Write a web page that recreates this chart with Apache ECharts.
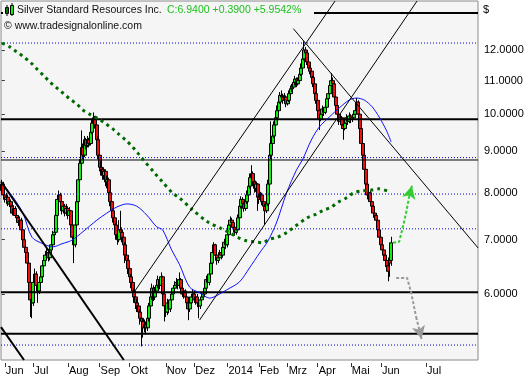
<!DOCTYPE html>
<html><head><meta charset="utf-8">
<script src="https://cdn.jsdelivr.net/npm/echarts@6/dist/echarts.min.js"></script>
<style>html,body{margin:0;padding:0;background:#fff;}#c{width:529px;height:380px;}</style>
</head><body><div id="c"></div>
<script>
// [open, close, low, high] per trading day, starting end of May 2013
const candles = [
[8.05,8.20,7.98,8.30],[8.20,7.95,7.90,8.25],[7.95,7.85,7.78,8.02],[7.85,7.90,7.80,8.00],[7.90,7.75,7.70,7.95],
[7.75,7.80,7.68,7.88],[7.80,7.70,7.62,7.85],[7.70,7.55,7.50,7.75],[7.55,7.65,7.50,7.72],[7.65,7.50,7.45,7.70],
[7.50,7.45,7.38,7.58],[7.45,7.35,7.28,7.50],[7.35,7.40,7.30,7.48],[7.40,7.20,7.15,7.45],[7.20,7.00,6.95,7.25],
[7.00,6.85,6.80,7.05],[6.85,6.75,6.65,6.95],[6.75,6.55,6.50,6.80],[6.55,6.20,6.10,6.60],[6.20,5.90,5.62,6.25],
[5.90,5.85,5.60,6.05],[5.85,6.20,5.80,6.25],[6.20,6.35,6.15,6.45],[6.35,6.15,6.10,6.40],[6.15,6.05,5.85,6.20],
[6.05,6.20,6.00,6.28],[6.20,6.30,6.15,6.38],[6.30,6.50,6.25,6.55],[6.50,6.60,6.45,6.70],[6.60,6.70,6.55,6.78],
[6.70,6.75,6.62,6.85],[6.75,6.65,6.58,6.82],[6.65,6.80,6.60,6.88],[6.80,6.90,6.75,7.00],[6.90,7.10,6.85,7.18],
[7.10,7.15,7.00,7.25],[7.15,7.50,7.10,7.58],[7.50,7.85,7.45,7.95],[7.85,7.95,7.75,8.05],[7.95,7.80,7.72,8.00],
[7.80,7.60,7.52,7.85],[7.60,7.70,7.55,7.80],[7.70,7.55,7.48,7.75],[7.55,7.65,7.50,7.75],[7.65,7.50,7.42,7.70],
[7.50,7.60,7.45,7.68],[7.60,7.30,7.25,7.62],[7.30,7.05,6.95,7.35],[7.05,6.90,6.55,7.10],[6.90,7.30,6.85,7.35],
[7.30,7.80,7.25,7.85],[7.80,8.30,7.75,8.40],[8.30,8.70,8.25,8.80],[8.70,9.10,8.65,9.55],[9.10,8.90,8.80,9.20],
[8.90,9.30,8.85,9.40],[9.30,9.15,9.05,9.35],[9.15,9.30,9.10,9.40],[9.30,9.20,9.10,9.35],[9.20,9.50,9.15,9.60],
[9.50,9.75,9.45,9.85],[9.75,9.90,9.65,10.05],[9.90,9.70,9.60,9.95],[9.70,9.30,9.20,9.75],[9.30,8.90,8.80,9.40],
[8.90,8.60,8.50,8.95],[8.60,8.55,8.40,8.75],[8.55,8.40,8.30,8.60],[8.40,8.50,8.30,8.60],[8.50,8.25,8.15,8.55],
[8.25,8.30,8.10,8.40],[8.30,8.00,7.90,8.35],[8.00,7.80,7.70,8.05],[7.80,7.60,7.50,7.85],[7.60,7.45,7.35,7.65],
[7.45,7.30,7.20,7.50],[7.30,7.10,7.00,7.35],[7.10,7.00,6.90,7.20],[7.00,7.20,6.95,7.40],[7.20,7.15,7.05,7.60],
[7.15,7.05,6.95,7.25],[7.05,6.90,6.80,7.10],[6.90,6.70,6.55,6.95],[6.70,6.60,6.50,6.75],[6.60,6.45,6.35,6.65],
[6.45,6.30,6.20,6.50],[6.30,6.20,6.10,6.35],[6.20,6.05,5.95,6.25],[6.05,5.95,5.85,6.10],[5.95,5.85,5.75,6.00],
[5.85,5.80,5.70,5.92],[5.80,5.70,5.62,5.85],[5.70,5.60,5.50,5.75],[5.60,5.55,5.17,5.65],[5.55,5.45,5.30,5.60],
[5.45,5.50,5.38,5.58],[5.50,5.45,5.35,5.55],[5.45,5.60,5.40,5.65],[5.60,5.80,5.55,5.85],[5.80,5.95,5.75,6.05],
[5.95,6.10,5.90,6.18],[6.10,5.95,5.88,6.15],[5.95,6.05,5.90,6.12],[6.05,6.15,6.00,6.22],[6.15,6.25,6.10,6.32],
[6.25,6.15,6.08,6.30],[6.15,6.30,6.10,6.38],[6.30,6.00,5.95,6.32],[6.00,5.80,5.55,6.05],[5.80,5.70,5.62,5.85],
[5.70,5.85,5.65,5.92],[5.85,5.75,5.68,5.90],[5.75,5.90,5.70,5.95],[5.90,6.00,5.85,6.05],[6.00,6.10,5.95,6.15],
[6.10,6.15,6.05,6.22],[6.15,6.20,6.10,6.28],[6.20,6.15,6.08,6.25],[6.15,6.25,6.10,6.38],[6.25,6.10,6.05,6.28],
[6.10,6.00,5.95,6.15],[6.00,6.05,5.92,6.10],[6.05,5.95,5.88,6.08],[5.95,5.85,5.78,6.00],[5.85,5.75,5.57,5.90],
[5.75,5.85,5.70,5.90],[5.85,5.95,5.80,6.00],[5.95,6.00,5.90,6.08],[6.00,5.90,5.85,6.05],[5.90,5.95,5.82,6.00],
[5.95,5.85,5.78,6.00],[5.85,5.80,5.60,5.90],[5.80,5.90,5.75,5.95],[5.90,5.95,5.85,6.02],[5.95,6.00,5.90,6.08],
[6.00,6.10,5.95,6.18],[6.10,6.25,6.05,6.32],[6.25,6.20,6.12,6.30],[6.20,6.35,6.15,6.40],[6.35,6.55,6.30,6.62],
[6.55,6.75,6.50,6.82],[6.75,6.90,6.70,6.95],[6.90,6.70,6.62,6.92],[6.70,6.60,6.52,6.75],[6.60,6.65,6.55,6.72],
[6.65,6.75,6.60,6.80],[6.75,6.70,6.62,6.80],[6.70,6.85,6.65,6.90],[6.85,6.95,6.80,7.02],[6.95,6.90,6.82,7.00],
[6.90,7.10,6.85,7.15],[7.10,7.30,7.05,7.38],[7.30,7.40,7.25,7.48],[7.40,7.35,7.28,7.45],[7.35,7.25,7.18,7.40],
[7.25,7.15,7.08,7.30],[7.15,7.20,7.10,7.28],[7.20,7.45,7.15,7.52],[7.45,7.70,7.40,7.78],[7.70,7.85,7.65,7.92],
[7.85,7.75,7.68,7.90],[7.75,7.65,7.58,7.80],[7.65,7.80,7.60,7.88],[7.80,7.95,7.75,8.05],[7.95,8.15,7.90,8.25],
[8.15,8.35,8.10,8.45],[8.35,8.45,8.25,8.65],[8.45,8.25,8.15,8.50],[8.25,8.10,8.00,8.30],[8.10,8.20,8.02,8.28],
[8.20,7.90,7.60,8.22],[7.90,7.85,7.75,7.98],[7.85,7.95,7.80,8.02],[7.95,7.80,7.72,8.00],[7.80,7.70,7.62,7.85],
[7.70,7.60,7.30,7.75],[7.60,7.75,7.55,7.82],[7.75,8.20,7.70,8.30],[8.20,8.90,8.15,9.00],[8.90,9.20,8.80,9.80],
[9.20,9.40,9.10,9.55],[9.40,9.70,9.35,9.80],[9.70,9.90,9.60,10.00],[9.90,10.10,9.85,10.25],[10.10,10.35,10.05,10.45],
[10.35,10.55,10.30,10.65],[10.55,10.50,10.40,10.70],[10.50,10.40,10.30,10.60],[10.40,10.50,10.35,10.62],[10.50,10.30,10.20,10.55],
[10.30,10.40,10.25,10.50],[10.40,10.60,10.35,10.70],[10.60,10.75,10.55,10.85],[10.75,10.80,10.65,10.90],[10.80,10.95,10.75,11.05],
[10.95,11.05,10.85,11.15],[11.05,10.90,10.80,11.10],[10.90,11.00,10.85,11.10],[11.00,11.20,10.95,11.30],[11.20,11.40,11.15,11.55],
[11.40,11.70,11.35,11.85],[11.70,12.00,11.65,12.30],[12.00,11.90,11.75,12.10],[11.90,11.60,11.50,11.95],[11.60,11.40,11.30,11.65],
[11.40,11.30,11.20,11.50],[11.30,11.10,11.00,11.35],[11.10,10.90,10.80,11.15],[10.90,10.60,10.50,10.95],[10.60,10.40,10.30,10.65],
[10.40,10.10,9.95,10.45],[10.10,9.85,9.56,10.15],[9.85,10.00,9.80,10.10],[10.00,10.15,9.95,10.25],[10.15,10.05,9.95,10.20],
[10.05,10.20,10.00,10.30],[10.20,10.45,10.15,10.55],[10.45,10.60,10.40,10.70],[10.60,10.85,10.55,10.95],[10.85,11.00,10.80,11.24],
[11.00,10.90,10.75,11.10],[10.90,10.50,10.40,10.95],[10.50,10.25,10.15,10.55],[10.25,10.00,9.90,10.30],[10.00,9.80,9.70,10.05],
[9.80,9.90,9.75,10.00],[9.90,9.70,9.60,9.95],[9.70,9.60,9.30,9.75],[9.60,9.75,9.55,9.85],[9.75,9.90,9.70,10.00],
[9.90,9.80,9.70,9.95],[9.80,9.95,9.75,10.05],[9.95,9.85,9.75,10.00],[9.85,9.90,9.78,10.00],[9.90,10.00,9.85,10.10],
[10.00,10.10,9.95,10.20],[10.10,10.35,10.05,10.47],[10.35,10.00,9.90,10.40],[10.00,9.60,9.50,10.05],[9.60,9.20,9.10,9.65],
[9.20,8.90,8.80,9.25],[8.90,8.55,8.45,8.95],[8.55,8.20,8.10,8.60],[8.20,7.95,7.85,8.25],[7.95,8.00,7.85,8.10],
[8.00,7.80,7.70,8.05],[7.80,7.70,7.60,7.85],[7.70,7.55,7.45,7.75],[7.55,7.50,7.40,7.60],[7.50,7.40,7.30,7.55],
[7.40,7.20,7.10,7.45],[7.20,7.05,6.95,7.25],[7.05,6.90,6.80,7.10],[6.90,6.80,6.70,6.95],[6.80,6.70,6.60,6.85],
[6.70,6.60,6.48,6.75],[6.60,6.50,6.40,6.65],[6.50,6.40,6.22,6.55],[6.65,6.55,6.30,6.70],[6.60,6.94,6.50,7.06]
];
const slotCount = 317;
const monthTicks = [[2,'Jun'],[21,'Jul'],[44,'Aug'],[65,'Sep'],[85,'Okt'],[109,'Nov'],[128,'Dez'],[150,'2014'],[171,'Feb'],[190,'Mrz'],[210,'Apr'],[232,'Mai'],[252,'Jun'],[282,'Jul']];
const priceTicks = [6,7,8,9,10,11,12];
const yRange = [4.974, 13.793];
const thickLevels = [13.33, 9.86, 6.03, 5.36];
const thinLevels = [8.78];
const dottedLevels = [12.24, 8.84, 7.97, 7.22, 5.19];
const ma200 = [[0.2,12.24],[5.5,12.10],[10.1,11.93],[14.8,11.76],[19.4,11.57],[23.4,11.37],[28.0,11.15],[32.0,10.96],[36.0,10.80],[40.6,10.62],[45.3,10.44],[49.9,10.29],[53.9,10.12],[59.2,9.98],[64.5,9.86],[68.5,9.75],[73.8,9.59],[77.7,9.45],[82.4,9.29],[87.0,9.11],[90.3,8.96],[93.7,8.80],[101.6,8.46],[106.3,8.27],[113.6,7.99],[118.2,7.88],[126.8,7.62],[136.1,7.38],[146.1,7.22],[151.4,7.14],[156.7,7.05],[162.6,6.98],[167.9,6.96],[173.2,6.94],[177.9,7.01],[183.2,7.05],[189.2,7.14],[194.5,7.26],[203.1,7.45],[209.0,7.53],[213.0,7.60],[219.0,7.68],[223.6,7.79],[228.9,7.88],[233.6,7.99],[238.9,8.04],[245.5,8.06],[250.8,8.09],[256.1,8.04]];
const ma50 = [[0.2,8.22],[7.5,7.90],[14.1,7.55],[20.1,7.05],[27.4,6.92],[34.0,6.86],[40.0,6.92],[46.6,6.99],[53.9,7.16],[63.2,7.40],[69.8,7.55],[76.4,7.68],[83.1,7.75],[89.7,7.70],[96.3,7.51],[103.0,7.26],[106.9,7.20],[112.9,6.80],[118.2,6.52],[124.8,6.12],[131.5,6.02],[138.1,5.93],[142.7,5.97],[149.4,6.07],[158.0,6.21],[164.6,6.46],[171.3,6.74],[176.6,6.96],[182.5,7.34],[189.2,7.99],[195.8,8.53],[199.8,8.78],[205.7,9.29],[211.0,9.64],[217.7,9.92],[224.3,10.18],[230.9,10.41],[235.6,10.47],[240.9,10.41],[246.2,10.21],[250.8,9.92],[255.5,9.56],[258.8,9.24]];
const thinTrends = [
  [[88.0,6.034],[221.5,13.793]],
  [[131.5,5.573],[276.0,13.793]],
  [[193.8,12.75],[316.5,6.84]]
];
const thickTrends = [
  [[-0.5,8.26],[81.1,4.974]],
  [[-0.5,5.46],[14.8,4.974]]
];
const upPath = [[260.1,6.94],[264.1,6.96],[266.1,7.20],[268.7,7.55],[270.7,7.90]];
const upHead = [[270.7,7.90],[272.6,8.16]];
const downPath = [[262.1,6.28],[269.4,6.28],[272.1,6.02],[275.4,5.62]];
const downHead = [[275.4,5.62],[279.0,5.28]];

const L = Math.log;
const FONT = 'Liberation Sans';
const cats = new Array(slotCount).fill('');
monthTicks.forEach(([i, t]) => { cats[i] = t; });
const toLog = pts => pts.map(([x, v]) => [x, L(v)]);

const lineS = (pts, style, extra) => Object.assign({
  type: 'line', xAxisIndex: 1, yAxisIndex: 0, data: toLog(pts), symbol: 'none',
  silent: true, animation: false, lineStyle: style
}, extra || {});
const levelLine = (v, style) => lineS([[-0.5, v], [slotCount - 0.5, v]], style);

const series = [{
  type: 'candlestick', xAxisIndex: 0, yAxisIndex: 0, animation: false, silent: true,
  barWidth: 3.5,
  data: candles.map(r => r.map(L)),
  itemStyle: { color: '#10ee10', color0: '#ee1010', borderColor: '#000', borderColor0: '#000', borderColorDoji: '#000', borderWidth: 1 }
}];
dottedLevels.forEach(v => series.push(levelLine(v, { color: '#0000d0', width: 1, type: [1, 2] })));
thinLevels.forEach(v => series.push(levelLine(v, { color: '#000', width: 1 })));
thickLevels.forEach(v => series.push(levelLine(v, { color: '#000', width: 2 })));
series.push(lineS(ma200, { color: '#006a00', width: 3, type: [3, 4] }, { smooth: 0.3 }));
series.push(lineS(ma50, { color: '#1010ff', width: 1 }, { smooth: 0.3 }));
thinTrends.forEach(p => series.push(lineS(p, { color: '#000', width: 1 })));
thickTrends.forEach(p => series.push(lineS(p, { color: '#000', width: 2 })));
const arrow = (path, head, color) => lineS(path, { color: color, width: 2, type: [3, 2] }, {
  markLine: {
    silent: true, animation: false, symbol: ['none', 'arrow'], symbolSize: [10, 13], label: { show: false },
    lineStyle: { color: color, width: 2, type: [3, 2] },
    data: [[{ coord: [head[0][0], L(head[0][1])] }, { coord: [head[1][0], L(head[1][1])] }]]
  }
});
series.push(arrow(upPath, upHead, '#33cc33'));
series.push(arrow(downPath, downHead, '#999999'));

const option = {
  animation: false,
  backgroundColor: '#ffffff',
  textStyle: { fontFamily: FONT },
  grid: { left: 1, right: 51, top: 1, bottom: 20, show: true, backgroundColor: '#f5f5f5', borderColor: '#8a8a8a', borderWidth: 1, containLabel: false, outerBoundsMode: 'none' },
  xAxis: [{
    type: 'category', data: cats, boundaryGap: true, position: 'bottom', offset: 3,
    axisLine: { show: false },
    axisTick: { show: true, alignWithLabel: true, length: 4, interval: (i, v) => v !== '', lineStyle: { color: '#333' } },
    axisLabel: { show: true, interval: (i, v) => v !== '', align: 'left', margin: 2, padding: [0, 0, 0, 1], color: '#000', fontSize: 11, fontFamily: FONT },
    splitLine: { show: false }
  }, {
    type: 'value', min: -0.5, max: slotCount - 0.5, show: false, position: 'top'
  }],
  yAxis: [{
    type: 'value', position: 'right', min: L(yRange[0]), max: L(yRange[1]), offset: 3,
    axisLine: { show: false },
    axisTick: { show: true, length: 3, customValues: priceTicks.map(L), lineStyle: { color: '#333' } },
    axisLabel: { show: true, customValues: priceTicks.map(L), margin: 3, color: '#000', fontSize: 11, fontFamily: FONT, formatter: v => Math.exp(v).toFixed(4) },
    splitLine: { show: false }
  }],
  series: series,
  graphic: [
    { type: 'rect', z: 100, shape: { x: 3, y: 2, width: 311, height: 16 }, style: { fill: '#f5f5f5' } },
    { type: 'rect', z: 101, shape: { x: 5.5, y: 7.5, width: 3, height: 6 }, style: { fill: '#10ee10', stroke: '#000', lineWidth: 1 } },
    { type: 'line', z: 101, shape: { x1: 7, y1: 5, x2: 7, y2: 16 }, style: { stroke: '#000', lineWidth: 1 } },
    { type: 'line', z: 101, shape: { x1: 12, y1: 3, x2: 12, y2: 16 }, style: { stroke: '#000', lineWidth: 1 } },
    { type: 'rect', z: 101, shape: { x: 10.5, y: 5.5, width: 3, height: 9 }, style: { fill: '#10ee10', stroke: '#000', lineWidth: 1 } },
    { type: 'text', z: 101, x: 17, y: 10, style: { text: 'Silver Standard Resources Inc.', fill: '#111', font: '10.5px "Liberation Sans"', verticalAlign: 'middle' } },
    { type: 'text', z: 101, x: 167, y: 10, style: { text: 'C:6.9400 +0.3900 +5.9542%', fill: '#20c020', font: '10.5px "Liberation Sans"', verticalAlign: 'middle' } },
    { type: 'text', z: 101, x: 4, y: 26, style: { text: '\u00a9 www.tradesignalonline.com', fill: '#111', font: '10.5px "Liberation Sans"', verticalAlign: 'middle' } },
    { type: 'text', z: 101, x: 483, y: 10, style: { text: '$', fill: '#000', font: '11px "Liberation Sans"', verticalAlign: 'middle' } }
  ]
};
const chart = echarts.init(document.getElementById('c'));
chart.setOption(option);
</script>
</body></html>
